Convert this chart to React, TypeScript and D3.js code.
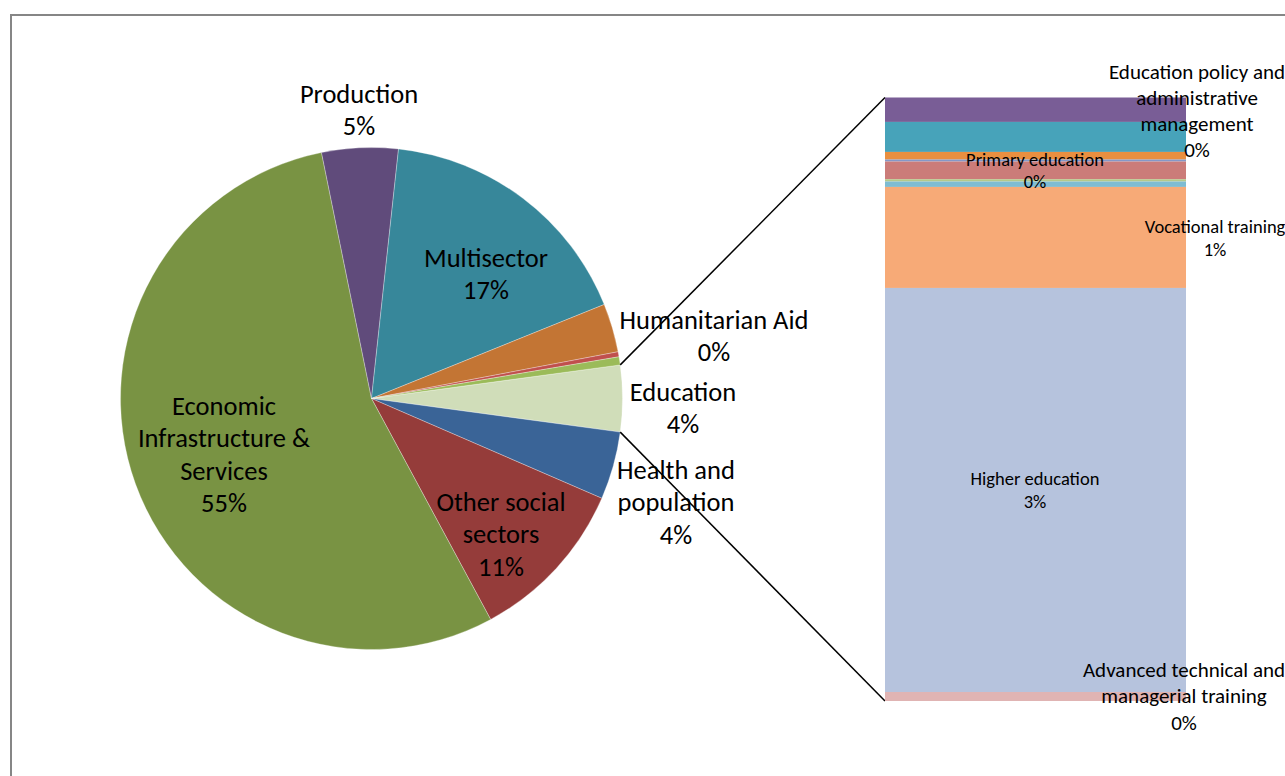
import React from "react";
import * as d3 from "d3";

// Main pie: sectors, clockwise starting with Education (centred at 3 o'clock)
const sectors = [
  "Education",
  "Health and\npopulation",
  "Other social\nsectors",
  "Economic\nInfrastructure &\nServices",
  "Production",
  "Multisector",
  "Action relating to debt",
  "Humanitarian Aid",
  "Commodity aid",
];
const sectorShares = [4.275, 4.37, 10.62, 54.68, 4.91, 17.17, 3.13, 0.325, 0.52];
const sectorColors = [
  "#d0ddb9",
  "#3a6497",
  "#953c3a",
  "#799343",
  "#604b7b",
  "#37879a",
  "#c37534",
  "#c0504d",
  "#9bbb59",
];

// Bar of pie: education breakdown, top to bottom
const educationParts = [
  "Education policy and\nadministrative\nmanagement",
  "Education facilities and training",
  "Teacher training",
  "Educational research",
  "Primary education",
  "Basic life skills for youth and adults",
  "Early childhood education",
  "Vocational training",
  "Higher education",
  "Advanced technical and\nmanagerial training",
];
const educationShares = [0.173, 0.2125, 0.054, 0.014, 0.1254, 0.0163, 0.0383, 0.7155, 2.862, 0.0638];
const educationColors = [
  "#795d96",
  "#47a3ba",
  "#e98f40",
  "#8498c8",
  "#cb7c79",
  "#b5c98a",
  "#7fbcd2",
  "#f7aa77",
  "#b6c3dd",
  "#e0b4b3",
];

// label placement (centre x, first line centre y)
const pieLabelLayout: Record<string, { x: number; y: number }> = {
  "Health and\npopulation": { x: 676, y: 472.5 },
  "Other social\nsectors": { x: 501, y: 504.5 },
  "Economic\nInfrastructure &\nServices": { x: 224, y: 408.5 },
  Production: { x: 359, y: 96.5 },
  Multisector: { x: 486, y: 260.5 },
  "Humanitarian Aid": { x: 714, y: 322.5 },
  Education: { x: 683, y: 394.5 },
};
const barLabelLayout: Record<string, { x: number; y: number; size: number; lh: number }> = {
  "Education policy and\nadministrative\nmanagement": { x: 1197, y: 73.5, size: 21, lh: 26 },
  "Primary education": { x: 1035, y: 161.5, size: 18.5, lh: 22 },
  "Vocational training": { x: 1215, y: 228.5, size: 18.5, lh: 23 },
  "Higher education": { x: 1035, y: 480.5, size: 18.5, lh: 23 },
  "Advanced technical and\nmanagerial training": { x: 1184, y: 671.5, size: 21, lh: 26.5 },
};

const W = 1285;
const H = 776;
const cx = 371.5;
const cy = 398.5;
const radius = 251;
const bar = { x0: 885, x1: 1186, top: 97.5, bottom: 701 };
const FONT = "Carlito, Calibri, Lato, sans-serif";

const App: React.FC = () => {
  const eduTotal = d3.sum(educationShares);
  const values = sectorShares.map((v, i) => (i === 0 ? eduTotal : v));
  const total = d3.sum(values);

  const eduAngle = (eduTotal / total) * Math.PI * 2;
  const start = Math.PI / 2 - eduAngle / 2;
  const arcs = d3
    .pie<number>()
    .sort(null)
    .startAngle(start)
    .endAngle(start + Math.PI * 2)(values);

  const arc = d3.arc<d3.PieArcDatum<number>>().innerRadius(0).outerRadius(radius);

  const pt = (a: number) => [cx + radius * Math.sin(a), cy - radius * Math.cos(a)];
  const eduArc = arcs[0];
  const p1 = pt(eduArc.startAngle);
  const p2 = pt(eduArc.endAngle);

  const y = d3.scaleLinear().domain([0, eduTotal]).range([bar.top, bar.bottom]);
  const cum = d3.cumsum(educationShares);
  const pct = (v: number) => `${Math.round((v / total) * 100)}%`;

  return (
    <svg
      width={W}
      height={H}
      style={{ position: "absolute", left: 0, top: 0, background: "#fff" }}
      fontFamily={FONT}
    >
      <rect x={11} y={15} width={1400} height={1000} fill="#fff" stroke="#868686" strokeWidth={2} />

      <g transform={`translate(${cx},${cy})`}>
        {arcs.map((a, i) => (
          <path
            key={sectors[i]}
            d={arc(a) || ""}
            fill={sectorColors[i]}
            stroke="#ffffff"
            strokeOpacity={0.5}
            strokeWidth={0.6}
          />
        ))}
      </g>

      {/* series lines from the education slice to the bar */}
      <line x1={p1[0]} y1={p1[1]} x2={bar.x0} y2={bar.top} stroke="#000" strokeWidth={1.5} />
      <line x1={p2[0]} y1={p2[1]} x2={bar.x0} y2={bar.bottom} stroke="#000" strokeWidth={1.5} />

      {educationShares.map((v, i) => (
        <rect
          key={educationParts[i]}
          x={bar.x0}
          y={y(cum[i] - v)}
          width={bar.x1 - bar.x0}
          height={y(cum[i]) - y(cum[i] - v)}
          fill={educationColors[i]}
        />
      ))}

      {sectors.map((name, i) => {
        const l = pieLabelLayout[name];
        if (!l) return null;
        const lines = [...name.split("\n"), pct(values[i])];
        return (
          <text key={name} x={l.x} textAnchor="middle" fontSize={26.5} fill="#000">
            {lines.map((t, j) => (
              <tspan key={j} x={l.x} y={l.y + j * 32.5} dominantBaseline="middle">
                {t}
              </tspan>
            ))}
          </text>
        );
      })}

      {educationParts.map((name, i) => {
        const l = barLabelLayout[name];
        if (!l) return null;
        const lines = [...name.split("\n"), pct(educationShares[i])];
        return (
          <text key={name} x={l.x} textAnchor="middle" fontSize={l.size} fill="#000">
            {lines.map((t, j) => (
              <tspan key={j} x={l.x} y={l.y + j * l.lh} dominantBaseline="middle">
                {t}
              </tspan>
            ))}
          </text>
        );
      })}
    </svg>
  );
};

export default App;
